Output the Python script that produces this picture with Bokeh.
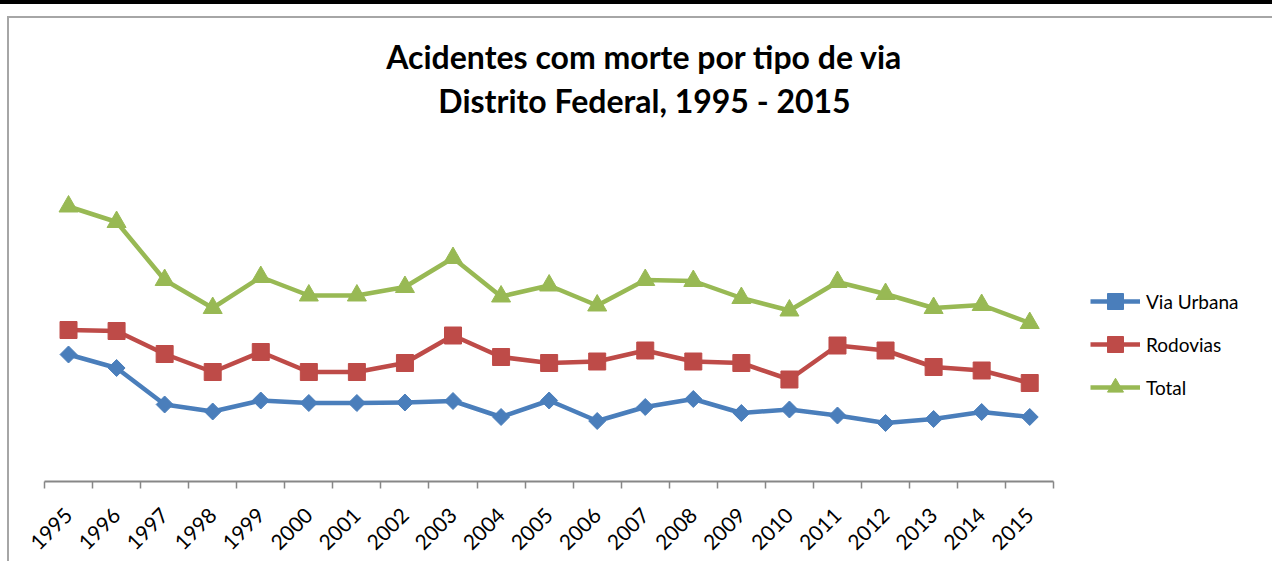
import numpy as np
from bokeh.plotting import figure
from bokeh.models import Range1d, FixedTicker, Legend, LegendItem, Label, ColumnDataSource
from bokeh.embed import file_html
from bokeh.resources import INLINE

# ---------------- data ----------------
years = ["1995", "1996", "1997", "1998", "1999", "2000", "2001", "2002", "2003", "2004",
         "2005", "2006", "2007", "2008", "2009", "2010", "2011", "2012", "2013", "2014", "2015"]
via_urbana = [254, 227, 154, 140, 162, 157, 157, 158, 161, 129,
              162, 121, 149, 165, 137, 144, 132, 117, 125, 139, 129]
rodovias = [303, 301, 255, 219, 259, 219, 219, 237, 292, 249,
            237, 240, 262, 240, 237, 204, 272, 262, 229, 222, 197]
total = [550, 519, 403, 347, 409, 372, 372, 389, 447, 370,
         392, 352, 403, 401, 367, 342, 399, 375, 347, 353, 317]
series_names = ["Via Urbana", "Rodovias", "Total"]
title_lines = ["Acidentes com morte por tipo de via", "Distrito Federal, 1995 - 2015"]

# ---------------- layout ----------------
PAGE_X0, PAGE_Y0 = 9, 18          # where the chart area starts on the page
W, H = 1272 - PAGE_X0, 561 - PAGE_Y0
FRAME_LEFT = 35
FRAME_H = 481 - PAGE_Y0
FRAME_BOTTOM = H - FRAME_H
Y_PER_PX = 2.0
X_PER_CAT_PX = 48.06
n = len(years)
x = list(range(n))
x_end = -0.5 + (W - FRAME_LEFT) / X_PER_CAT_PX
y_end = FRAME_H * Y_PER_PX

FONT = "Lato"

p = figure(width=W, height=H, output_backend="svg", toolbar_location=None,
           x_range=Range1d(-0.5, x_end), y_range=Range1d(0, y_end),
           y_axis_location=None,
           min_border_left=FRAME_LEFT, min_border_right=0, min_border_top=0,
           min_border_bottom=FRAME_BOTTOM, margin=(PAGE_Y0, 0, 0, PAGE_X0))
# chart-area border (gray) and the spreadsheet line above it (black)
p.styles = {"box-shadow": ("-2px 0 0 0 #a6a6a6, 0 -2px 0 0 #a6a6a6, -2px -2px 0 0 #a6a6a6, "
                           "0 -5px 0 9px #ffffff, 0 -9px 0 9px #000000")}
p.grid.visible = False
p.outline_line_color = None
p.background_fill_color = "white"
p.border_fill_color = "white"

xa = p.xaxis[0]
xa.ticker = FixedTicker(ticks=x, minor_ticks=[i - 0.5 for i in range(n + 1)])
xa.major_label_overrides = {i: yv for i, yv in enumerate(years)}
xa.bounds = (-0.5, n - 0.5)
xa.major_tick_line_color = None
xa.major_tick_in = 0
xa.major_tick_out = 0
xa.minor_tick_in = 0
xa.minor_tick_out = 7
xa.minor_tick_line_color = "#878787"
xa.minor_tick_line_width = 1.5
xa.axis_line_color = "#878787"
xa.axis_line_width = 2
xa.major_label_orientation = np.pi / 4
xa.major_label_text_font = FONT
xa.major_label_text_font_size = "21px"
xa.major_label_text_color = "black"
xa.major_label_standoff = 23

specs = [
    (via_urbana, "#4A7EBB", "square", 12, np.pi / 4),
    (rodovias, "#BE4B48", "square", 17, 0.0),
    (total, "#98B954", "triangle", 19, 0.0),
]
items = []
for (vals, color, marker, size, angle), name in zip(specs, series_names):
    src = ColumnDataSource(dict(x=x, y=vals))
    r1 = p.line("x", "y", source=src, line_color=color, line_width=4.5, line_join="round")
    r2 = p.scatter("x", "y", source=src, marker=marker, size=size, angle=angle,
                   fill_color=color, line_color=color)
    items.append(LegendItem(label=name, renderers=[r1, r2]))

leg = Legend(items=items, location=(1046, 74), orientation="vertical",
             glyph_width=50, glyph_height=40, label_height=20, spacing=3,
             label_standoff=6, padding=0, margin=0, border_line_color=None,
             background_fill_alpha=0, label_text_font=FONT,
             label_text_font_size="19px", label_text_color="black")
p.add_layout(leg)

def page_to_data(px, py):
    fx = px - PAGE_X0 - FRAME_LEFT
    fy = py - PAGE_Y0
    return -0.5 + fx / X_PER_CAT_PX, (FRAME_H - fy) * Y_PER_PX

for line, py in zip(title_lines, [56, 100]):
    tx, ty = page_to_data(644, py)
    p.add_layout(Label(x=tx, y=ty, text=line, text_align="center", text_baseline="middle",
                       text_font=FONT, text_font_style="bold", text_font_size="32px",
                       text_color="black"))

open("out.html", "w").write(file_html(p, INLINE))
